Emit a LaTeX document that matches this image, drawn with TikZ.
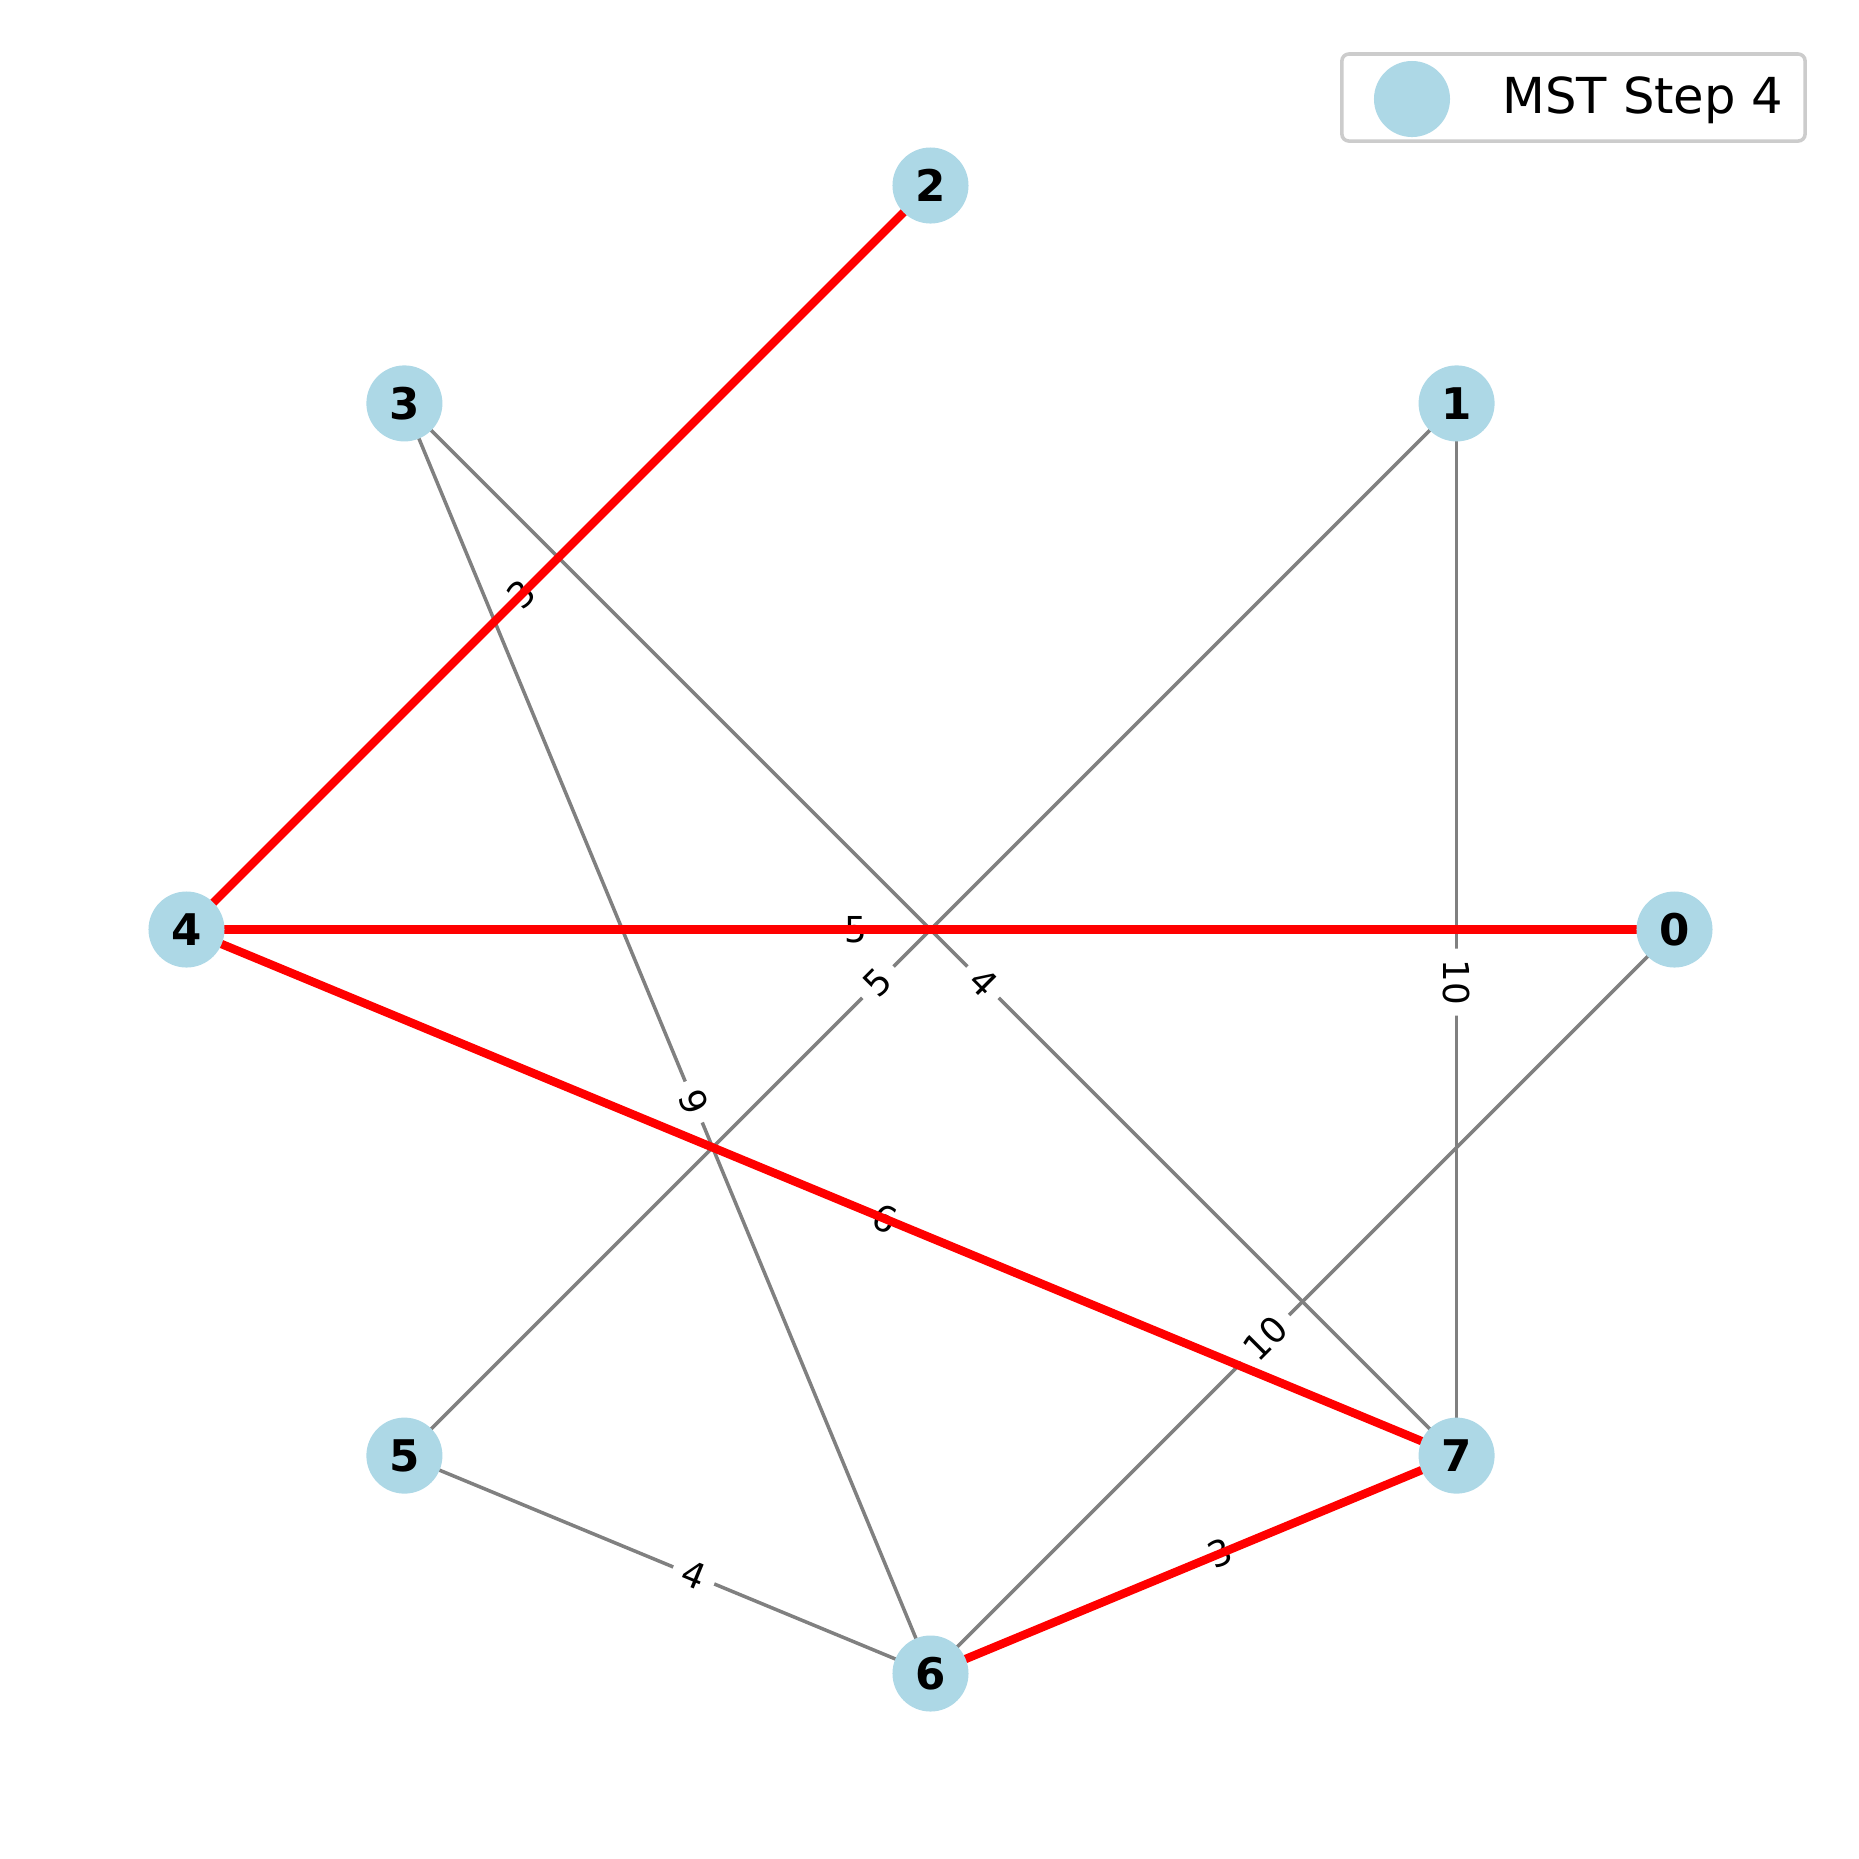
\documentclass[tikz,border=0pt]{standalone}
\usepackage{fontspec}
\setmainfont{DejaVu Sans}
\usetikzlibrary{backgrounds}
\definecolor{nodeblue}{RGB}{173,216,230}
\definecolor{edgegray}{RGB}{128,128,128}
\definecolor{legedge}{RGB}{204,204,204}
\begin{document}
\begin{tikzpicture}[x=0.01cm,y=-0.01cm,
  vtx/.style={circle,fill=nodeblue,minimum size=0.76cm,inner sep=0pt,font=\fontsize{12.4}{14}\selectfont\bfseries},
  grayedge/.style={draw=edgegray,line width=1pt},
  rededge/.style={draw=red,line width=2.4pt},
  wlbl/.style={fill=white,rounded corners=3pt,inner xsep=3.05pt,inner ysep=4.5pt,text height=0.73em,text depth=0pt,font=\fontsize{10.15}{12}\selectfont,pos=0.55}]
\useasboundingbox (0,0) rectangle (1859,1859);
% vertices
\node[vtx] (n0) at (1674.5,929.5) {0};
\node[vtx] (n1) at (1456.6,403.4) {1};
\node[vtx] (n2) at (930.5,185.5) {2};
\node[vtx] (n3) at (404.4,403.4) {3};
\node[vtx] (n4) at (186.5,929.5) {4};
\node[vtx] (n5) at (404.4,1455.6) {5};
\node[vtx] (n6) at (930.5,1673.5) {6};
\node[vtx] (n7) at (1456.6,1455.6) {7};
\begin{pgfonlayer}{background}
% gray edges with labels
\draw[grayedge] (n3.center) -- (n6.center) node[wlbl,rotate=-67.5] {9};
\draw[grayedge] (n3.center) -- (n7.center) node[wlbl,rotate=-45] {4};
\draw[grayedge] (n1.center) -- (n5.center) node[wlbl,rotate=45] {5};
\draw[grayedge] (n1.center) -- (n7.center) node[wlbl,rotate=-90] {10};
\draw[grayedge] (n0.center) -- (n6.center) node[wlbl,rotate=45] {10};
\draw[grayedge] (n5.center) -- (n6.center) node[wlbl,rotate=-22.5] {4};
% labels of MST edges (under the red lines)
\path (n0.center) -- (n4.center) node[wlbl,rotate=0] {5};
\path (n2.center) -- (n4.center) node[wlbl,rotate=45] {3};
\path (n4.center) -- (n7.center) node[wlbl,rotate=-22.5] {6};
\path (n6.center) -- (n7.center) node[wlbl,rotate=22.5] {3};
% MST edges
\draw[rededge] (n0.center) -- (n4.center);
\draw[rededge] (n2.center) -- (n4.center);
\draw[rededge] (n4.center) -- (n7.center);
\draw[rededge] (n6.center) -- (n7.center);
\end{pgfonlayer}
% legend
\node[draw=legedge,line width=1pt,fill=white,rounded corners=2pt,minimum width=4.63cm,minimum height=0.87cm,inner sep=0pt] (legend) at (1573.5,97.5) {};
\node[circle,fill=nodeblue,minimum size=0.76cm,inner sep=0pt] (legmark) at (1412,99) {};
\node[anchor=base west,inner sep=0pt,font=\fontsize{14.1}{16}\selectfont] (legtext) at (1502,113) {MST Step 4};
\end{tikzpicture}
\end{document}
